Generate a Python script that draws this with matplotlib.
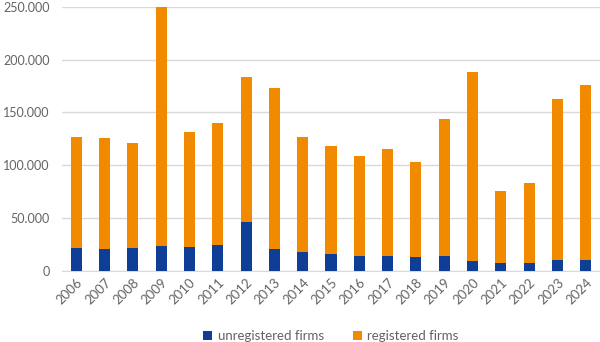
import matplotlib
matplotlib.use("Agg")
import matplotlib.pyplot as plt
from matplotlib.ticker import FuncFormatter

plt.rcParams['font.family'] = ['Lato', 'DejaVu Sans']

years = [str(y) for y in range(2006, 2025)]
unregistered = [21500, 20300, 21800, 23700, 22800, 24700, 46500, 20600, 18000,
                16100, 14000, 13700, 13000, 14200, 8900, 7300, 7300, 10400, 10200]
totals = [127000, 125200, 121400, 250000, 131300, 140100, 183500, 173300, 126800,
          118300, 108800, 115500, 103100, 143600, 187800, 75600, 83200, 162900, 175900]
registered = [t - u for t, u in zip(totals, unregistered)]

blue = '#0E3E96'
orange = '#F28A00'
grey = '#636363'

fig = plt.figure(figsize=(6, 3.42), dpi=100)
ax = fig.add_axes([62 / 600, 71.3 / 342, 538 / 600, 264 / 342])

x = range(len(years))
ax.bar(x, unregistered, width=0.39, color=blue, label='unregistered firms', zorder=3)
ax.bar(x, registered, width=0.39, bottom=unregistered, color=orange,
       label='registered firms', zorder=3)

ax.set_xlim(-0.5, len(years) - 0.5)
ax.set_ylim(0, 250000)
ax.set_yticks(range(0, 250001, 50000))
ax.yaxis.set_major_formatter(FuncFormatter(lambda v, p: f'{int(v):,}'.replace(',', '.')))
ax.grid(axis='y', color='#d9d9d9', lw=1, zorder=0)
for s in ['top', 'right', 'left']:
    ax.spines[s].set_visible(False)
ax.spines['bottom'].set_color('#d9d9d9')

ax.set_xticks(list(x))
ax.set_xticklabels(years, rotation=45, ha='right', rotation_mode='anchor')
ax.tick_params(axis='both', length=0, colors=grey, labelsize=9.5)
ax.tick_params(axis='y', labelsize=9, pad=9)
ax.tick_params(axis='x', pad=4)

ax.legend(loc='lower center', bbox_to_anchor=(0.5, -0.315), ncol=2, frameon=False,
          fontsize=9.5, handlelength=0.7, handleheight=0.7, handletextpad=0.4,
          columnspacing=2.2, labelcolor=grey)

fig.savefig('out.png', dpi=100)
